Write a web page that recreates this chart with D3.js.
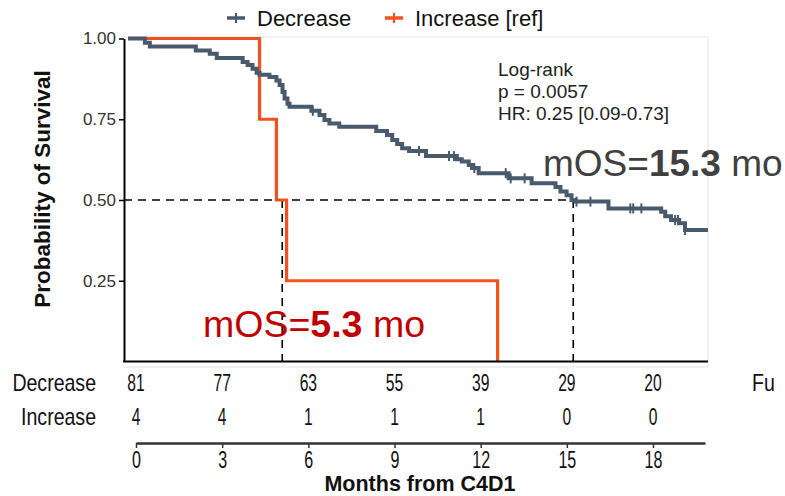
<!DOCTYPE html>
<html><head><meta charset="utf-8">
<script src="https://cdn.jsdelivr.net/npm/d3@7"></script>
<style>body{margin:0;background:#fff} svg{display:block}</style>
</head><body>
<svg id="c" width="785" height="496"></svg>
<script>
// Decrease group: KM step times (months) and survival after each step
const decTimes = [0, 0.58, 0.75, 2.33, 2.81, 3.05, 3.94, 4.11, 4.28, 4.42, 4.52, 4.86, 5.10, 5.21, 5.31, 5.38, 5.48, 5.55,
  6.30, 6.58, 6.75, 6.92, 7.26, 8.53, 8.90, 9.08, 9.25, 9.42, 9.66, 10.24, 11.30, 11.47, 11.71, 11.82, 12.05,
  13.08, 13.87, 14.69, 14.86, 15.07, 15.24, 15.38, 16.51, 18.32, 18.46, 18.66, 18.94, 19.14, 19.93];
const decSurv = [1, 0.987, 0.975, 0.963, 0.953, 0.94, 0.927, 0.918, 0.906, 0.894, 0.888, 0.881, 0.87, 0.856, 0.834, 0.814, 0.798, 0.789,
  0.776, 0.763, 0.748, 0.737, 0.727, 0.714, 0.701, 0.686, 0.673, 0.66, 0.652, 0.636, 0.626, 0.619, 0.608, 0.599, 0.583,
  0.567, 0.552, 0.54, 0.526, 0.515, 0.5, 0.495, 0.474, 0.464, 0.45, 0.438, 0.428, 0.407, 0.407];
const decCensor = [6.35, 10.0, 11.03, 11.2, 11.9, 12.98, 13.15, 13.63, 15.41, 15.89, 17.26, 17.36, 17.64, 18.8, 18.9, 19.14];
// Increase [ref] group
const incTimes = [0, 4.52, 5.10, 5.45, 12.70];
const incSurv = [1, 0.75, 0.5, 0.25, 0];
// medians
const medians = [5.3, 15.3];
// risk table
const riskTimes = [0, 3, 6, 9, 12, 15, 18];
const decRisk = [81, 77, 63, 55, 39, 29, 20];
const incRisk = [4, 4, 1, 1, 1, 0, 0];
const yTicks = [0.25, 0.5, 0.75, 1.0];
const statLines = ["Log-rank", "p = 0.0057", "HR: 0.25 [0.09-0.73]"];

const GREY = "#485a6b", ORANGE = "#f4511e";
const FF = "'Liberation Sans', Arial, sans-serif";
const svg = d3.select("#c");
const x = d3.scaleLinear().domain([0, 19.93]).range([128, 708]);
const y = d3.scaleLinear().domain([0, 1]).range([361.5, 38.5]);
const xr = d3.scaleLinear().domain([0, 19.81]).range([136, 705]);

// panel border
svg.append("line").attr("x1",124).attr("x2",708).attr("y1",37).attr("y2",37).attr("stroke","#e3e3e3").attr("stroke-width",1);
svg.append("line").attr("x1",708).attr("x2",708).attr("y1",37).attr("y2",367).attr("stroke","#e3e3e3").attr("stroke-width",1);
svg.append("line").attr("x1",124).attr("x2",708).attr("y1",367).attr("y2",367).attr("stroke","#e3e3e3").attr("stroke-width",1);

// dashed median lines
const dash = svg.append("g").attr("stroke","#000").attr("stroke-width",1.6).attr("stroke-dasharray","8,6").attr("fill","none");
dash.append("line").attr("x1",124).attr("x2",x(medians[1])).attr("y1",y(0.5)).attr("y2",y(0.5));
medians.forEach(m => dash.append("line").attr("x1",x(m)).attr("x2",x(m)).attr("y1",y(0.5)).attr("y2",y(0)));

// curves
const line = d3.line().x(d=>x(d[0])).y(d=>y(d[1])).curve(d3.curveStepAfter);
svg.append("path").datum(incTimes.map((t,i)=>[t,incSurv[i]]))
  .attr("d",line).attr("fill","none").attr("stroke",ORANGE).attr("stroke-width",3.2);
svg.append("path").datum(decTimes.map((t,i)=>[t,decSurv[i]]))
  .attr("d",line).attr("fill","none").attr("stroke",GREY).attr("stroke-width",4);
function survAt(t){ let s=1; for(let i=0;i<decTimes.length;i++){ if(decTimes[i]<=t) s=decSurv[i]; } return s; }
svg.append("g").selectAll("line").data(decCensor).join("line")
  .attr("x1",d=>x(d)).attr("x2",d=>x(d)).attr("y1",d=>y(survAt(d))-5).attr("y2",d=>y(survAt(d))+5)
  .attr("stroke",GREY).attr("stroke-width",2);

// axes of the plot
const ya = svg.append("g").attr("transform","translate(124,0)")
  .call(d3.axisLeft(y).tickValues(yTicks).tickFormat(d3.format(".2f")).tickSize(5).tickSizeOuter(0));
ya.select(".domain").attr("stroke","#000").attr("stroke-width",2);
ya.selectAll(".tick line").attr("stroke","#000").attr("stroke-width",1.5);
ya.selectAll(".tick text").attr("font-family",FF).attr("font-size",17).attr("fill","#333").attr("x",-8);
svg.append("line").attr("x1",123).attr("x2",708).attr("y1",y(0)).attr("y2",y(0)).attr("stroke","#000").attr("stroke-width",2);

svg.append("text").attr("transform","translate(50,189) rotate(-90)").attr("text-anchor","middle")
  .attr("font-family",FF).attr("font-weight","bold").attr("font-size",22.5).attr("fill","#111")
  .text("Probability of Survival");

// stats text
svg.append("g").selectAll("text").data(statLines).join("text")
  .attr("x",498).attr("y",(d,i)=>76+i*22).attr("font-family",FF).attr("font-size",19).attr("fill","#222")
  .text(d=>d);

// mOS annotations
const t1 = svg.append("text").attr("x",543).attr("y",176).attr("font-family",FF).attr("font-size",37).attr("fill","#404040");
t1.append("tspan").text("mOS=");
t1.append("tspan").attr("font-weight","bold").text("15.3");
t1.append("tspan").text(" mo");
const t2 = svg.append("text").attr("x",203).attr("y",337).attr("font-family",FF).attr("font-size",37.5).attr("fill","#c00000");
t2.append("tspan").text("mOS=");
t2.append("tspan").attr("font-weight","bold").text("5.3");
t2.append("tspan").text(" mo");

// legend
const lg = svg.append("g").attr("font-family",FF).attr("font-size",22).attr("fill","#111");
[[227,GREY,"Decrease",257],[385,ORANGE,"Increase [ref]",415]].forEach(([sx,c,lab,tx])=>{
  lg.append("line").attr("x1",sx).attr("x2",sx+18).attr("y1",18).attr("y2",18).attr("stroke",c).attr("stroke-width",3.5);
  lg.append("line").attr("x1",sx+9).attr("x2",sx+9).attr("y1",13).attr("y2",23).attr("stroke",c).attr("stroke-width",2);
  lg.append("text").attr("x",tx).attr("y",26).text(lab);
});

// risk table (condensed text)
const rt = svg.append("g").attr("font-family",FF).attr("font-size",23).attr("fill","#111");
[["Decrease",decRisk,391],["Increase",incRisk,425]].forEach(([lab,vals,yy])=>{
  rt.append("text").attr("transform",`translate(96,${yy}) scale(0.85,1)`).attr("text-anchor","end").text(lab);
  rt.selectAll(null).data(vals).join("text")
    .attr("transform",(d,i)=>`translate(${xr(riskTimes[i])},${yy}) scale(0.68,1)`)
    .attr("text-anchor","middle").text(d=>d);
});
rt.append("text").attr("transform","translate(752,391) scale(0.85,1)").text("Fu");

// bottom axis
const xa = svg.append("g").attr("transform","translate(0,443)")
  .call(d3.axisBottom(xr).tickValues(riskTimes).tickSize(5).tickSizeOuter(0));
xa.select(".domain").attr("stroke","#333").attr("stroke-width",2.5);
xa.selectAll(".tick line").attr("stroke","#333").attr("stroke-width",1.5);
xa.selectAll(".tick text").attr("font-family",FF).attr("font-size",23).attr("fill","#111")
  .attr("y",9).attr("dy","0.71em").attr("transform","scale(0.7,1)");
svg.append("text").attr("x",420).attr("y",491).attr("text-anchor","middle").attr("font-family",FF)
  .attr("font-weight","bold").attr("font-size",21.5).attr("fill","#111").text("Months from C4D1");
</script>
</body></html>
